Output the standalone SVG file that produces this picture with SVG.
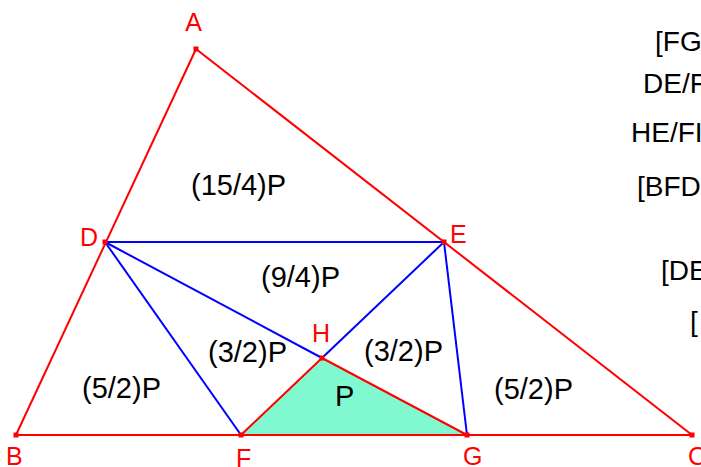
<svg xmlns="http://www.w3.org/2000/svg" width="701" height="467" viewBox="0 0 701 467">
<style>
.r{stroke:#ff0000;stroke-width:2;fill:none}
.b{stroke:#0000ff;stroke-width:2;fill:none}
.pt{fill:#ff0000}
.lbl{font-family:"Liberation Sans",Arial,sans-serif;font-size:25px;fill:#ff0000}
.t{font-family:"Liberation Sans",Arial,sans-serif;font-size:29px;fill:#000}
.n{font-family:"Liberation Sans",Arial,sans-serif;font-size:28px;fill:#000}
</style>
<rect width="701" height="467" fill="#fff"/>
<g id="region-P">
<polygon points="241,435 322,358 467,435" fill="#80f9d0"/>
</g>
<g id="connectors">
<line class="r" x1="196" y1="49" x2="16" y2="435"/>
<line class="r" x1="196" y1="49" x2="692" y2="435"/>
<line class="r" x1="16" y1="435" x2="692" y2="435"/>
<line class="b" x1="105" y1="242" x2="444" y2="242"/>
<line class="b" x1="105" y1="242" x2="241" y2="435"/>
<line class="b" x1="105" y1="242" x2="322" y2="358"/>
<line class="b" x1="444" y1="242" x2="322" y2="358"/>
<line class="b" x1="444" y1="242" x2="467" y2="435"/>
<line class="r" x1="241" y1="435" x2="322" y2="358"/>
<line class="r" x1="322" y1="358" x2="467" y2="435"/>
</g>
<g id="A"><rect class="pt" x="193.5" y="46.5" width="5" height="5"/><text class="lbl" x="193.5" y="31" text-anchor="middle">A</text></g>
<g id="B"><rect class="pt" x="13.5" y="432.5" width="5" height="5"/><text class="lbl" x="6" y="465">B</text></g>
<g id="C"><rect class="pt" x="689.5" y="432.5" width="5" height="5"/><text class="lbl" x="688" y="465">C</text></g>
<g id="D"><rect class="pt" x="102.5" y="239.5" width="5" height="5"/><text class="lbl" x="80" y="246">D</text></g>
<g id="E"><rect class="pt" x="441.5" y="239.5" width="5" height="5"/><text class="lbl" x="450" y="243">E</text></g>
<g id="F"><rect class="pt" x="238.5" y="432.5" width="5" height="5"/><text class="lbl" x="236" y="467">F</text></g>
<g id="G"><rect class="pt" x="464.5" y="432.5" width="5" height="5"/><text class="lbl" x="463" y="465">G</text></g>
<g id="H"><rect class="pt" x="319.5" y="355.5" width="5" height="5"/><text class="lbl" x="312" y="342">H</text></g>
<g id="areas">
<text class="t" x="191" y="195">(15/4)P</text>
<text class="t" x="261" y="287">(9/4)P</text>
<text class="t" x="208" y="362">(3/2)P</text>
<text class="t" x="364" y="361">(3/2)P</text>
<text class="t" x="335" y="406">P</text>
<text class="t" x="82" y="398">(5/2)P</text>
<text class="t" x="494" y="399">(5/2)P</text>
</g>
<g id="notes">
<text class="n" x="655" y="51">[FG</text>
<text class="n" x="643" y="93">DE/F</text>
<text class="n" x="631" y="142">HE/FI</text>
<text class="n" x="637" y="196">[BFD</text>
<text class="n" x="661" y="280">[DE</text>
<text class="n" x="690" y="331">[</text>
</g>
</svg>
